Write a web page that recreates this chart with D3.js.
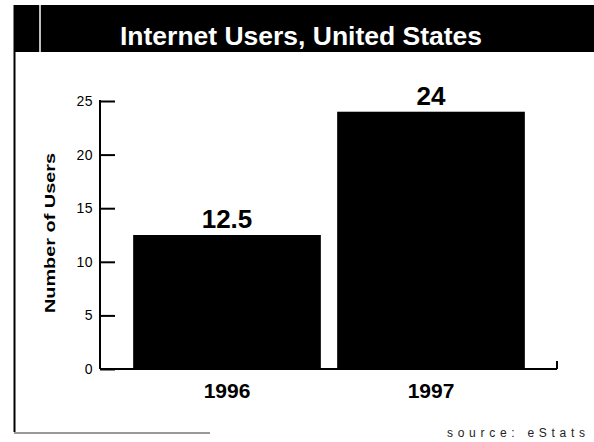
<!DOCTYPE html>
<html><head><meta charset="utf-8">
<script src="https://cdn.jsdelivr.net/npm/d3@7"></script>
<style>body{margin:0;background:#fff}svg{display:block}</style>
</head><body>
<script>
const categories = ["1996", "1997"];
const values = [12.5, 24];
const valueLabels = ["12.5", "24"];
const yTicks = [0, 5, 10, 15, 20, 25];
const title = "Internet Users, United States";
const yTitle = "Number of Users";
const source = "source: eStats";

const W = 594, H = 442;
const svg = d3.select("body").append("svg").attr("width", W).attr("height", H);
const font = "Liberation Sans, Arial, sans-serif";

// frame
svg.append("rect").attr("x", 14).attr("y", 5).attr("width", W - 14).attr("height", 47).attr("fill", "#000");
svg.append("line").attr("x1", 40).attr("x2", 40).attr("y1", 5).attr("y2", 52).attr("stroke", "#fff").attr("stroke-width", 1.5);
svg.append("line").attr("x1", 14.5).attr("x2", 14.5).attr("y1", 5).attr("y2", 432).attr("stroke", "#000").attr("stroke-width", 2);
svg.append("line").attr("x1", 14).attr("x2", 210).attr("y1", 433).attr("y2", 433).attr("stroke", "#777").attr("stroke-width", 1.5);

svg.append("text").attr("x", 301).attr("y", 45).attr("text-anchor", "middle")
  .attr("fill", "#fff").attr("font-family", font).attr("font-weight", "bold").attr("font-size", 25)
  .attr("textLength", 362).attr("lengthAdjust", "spacingAndGlyphs")
  .text(title);

const x0 = 100, x1 = 557;
const y = d3.scaleLinear().domain([0, 25]).range([369, 101]);
const x = d3.scaleBand().domain(categories).range([125, 533]).paddingInner(0.08).paddingOuter(0.04);

// bars
svg.selectAll("rect.bar").data(values).join("rect").attr("class", "bar")
  .attr("x", (d, i) => x(categories[i])).attr("width", x.bandwidth())
  .attr("y", d => y(d)).attr("height", d => y(0) - y(d)).attr("fill", "#000");

// y axis
const yAxis = d3.axisRight(y).tickValues(yTicks).tickSize(15).tickFormat("");
const ga = svg.append("g").attr("transform", `translate(${x0},0)`).call(yAxis);
ga.select(".domain").remove();
ga.selectAll("line").attr("stroke", "#000").attr("stroke-width", 2);
svg.append("line").attr("x1", x0).attr("x2", x0).attr("y1", y(25) - 1).attr("y2", y(0)).attr("stroke", "#000").attr("stroke-width", 2);
svg.selectAll("text.ytick").data(yTicks).join("text").attr("class", "ytick")
  .attr("x", 93).attr("y", d => y(d) + 5).attr("text-anchor", "end")
  .attr("font-family", font).attr("font-size", 14).attr("letter-spacing", 0.5).text(d => d);

// baseline
svg.append("line").attr("x1", x0).attr("x2", x1).attr("y1", y(0)).attr("y2", y(0)).attr("stroke", "#000").attr("stroke-width", 2);
svg.append("line").attr("x1", x1).attr("x2", x1).attr("y1", y(0)).attr("y2", y(0) - 8).attr("stroke", "#000").attr("stroke-width", 2);

// y title
svg.append("text").attr("transform", `translate(55,233) rotate(-90)`).attr("text-anchor", "middle")
  .attr("font-family", font).attr("font-weight", "bold").attr("font-size", 15)
  .attr("textLength", 160).attr("lengthAdjust", "spacingAndGlyphs").text(yTitle);

// value labels
svg.selectAll("text.val").data(values).join("text").attr("class", "val")
  .attr("x", (d, i) => x(categories[i]) + x.bandwidth() / 2).attr("y", d => y(d) - 7)
  .attr("text-anchor", "middle").attr("font-family", font).attr("font-weight", "bold").attr("font-size", 26)
  .text((d, i) => valueLabels[i]);

// category labels
svg.selectAll("text.cat").data(categories).join("text").attr("class", "cat")
  .attr("x", d => x(d) + x.bandwidth() / 2).attr("y", 398)
  .attr("text-anchor", "middle").attr("font-family", font).attr("font-weight", "bold").attr("font-size", 21)
  .text(d => d);

// source
svg.append("text").attr("x", 585).attr("y", 437).attr("text-anchor", "end")
  .attr("font-family", font).attr("font-size", 12).attr("fill", "#222")
  .attr("textLength", 138).attr("lengthAdjust", "spacing")
  .text(source);
</script>
</body></html>
